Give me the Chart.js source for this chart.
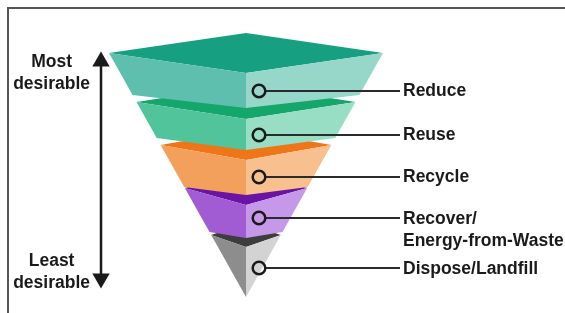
<!DOCTYPE html>
<html>
<head>
<meta charset="utf-8">
<script src="https://cdn.jsdelivr.net/npm/chart.js@4.4.1/dist/chart.umd.min.js"></script>
<style>
    html, body { margin: 0; padding: 0; background: #fff; }
    .wrap { position: relative; width: 565px; height: 313px; overflow: hidden; }
    .wrap canvas { position: absolute; left: 0; top: 0; }
    .frame {
        position: absolute; left: 7px; top: 7px; width: 620px; height: 400px;
        border-top: 2px solid #555; border-left: 2px solid #555; pointer-events: none;
    }
</style>
</head>
<body>
<div class="wrap">
    <canvas id="chart" width="565" height="313"></canvas>
    <div class="frame"></div>
</div>
<script>
// Waste hierarchy - inverted pyramid, most desirable option at the top

const levels = ["Reduce", "Reuse", "Recycle", ["Recover/", "Energy-from-Waste"], "Dispose/Landfill"];
const layerTop = [53, 102, 145, 188, 235];       // outer corners, top edge
const layerTopMid = [73, 119, 160, 205, 247];    // front (centre) edge, top
const layerBottom = [95, 138, 187, 232, 297];    // outer corners, bottom edge
const layerBottomMid = [108, 150, 195, 238, 297];
const markerY = [91, 135, 177, 218, 268];
const labelY = [91, 135, 177, 230, 269];
const endLabels = [["Most", "desirable"], ["Least", "desirable"]];
const endLabelY = [73, 272];
const arrowY = [61.5, 278.5];

const faceColors = [
    { top: "#179f82", left: "#5ebfae", right: "#96d7c9" },
    { top: "#14a66b", left: "#52c49c", right: "#98dec4" },
    { top: "#ef7519", left: "#f4a05d", right: "#f8c08e" },
    { top: "#6a14a6", left: "#a15bd3", right: "#c598e9" },
    { top: "#3d3d3d", left: "#8d8d8d", right: "#d3d3d3" }
];

// pyramid outline
const CX = 246;
const TOP_Y = 53;
const TOP_HALF = 137;
const TIP_Y = 297;
const MARK_X = 259;
const MARK_R = 6.3;
const LINE_END = 400;
const ARROW_X = 101;
const INK = "#1a1a1a";

function halfWidth(y) {
    return TOP_HALF * (TIP_Y - y) / (TIP_Y - TOP_Y);
}

// first point leftmost, last point rightmost (filler clips on x range)
function face(points, color) {
    return {
        data: points.map(p => ({ x: p[0], y: p[1] })),
        showLine: true,
        fill: "shape",
        backgroundColor: color,
        borderWidth: 0,
        pointRadius: 0
    };
}

const datasets = [];

// circles on the front edge
datasets.push({
    data: markerY.map(y => ({ x: MARK_X, y: y })),
    pointRadius: MARK_R,
    pointBorderWidth: 2.5,
    pointBorderColor: INK,
    pointBackgroundColor: "rgba(0,0,0,0)",
    clip: false
});

// leader lines
markerY.forEach(y => {
    datasets.push({
        data: [{ x: MARK_X + MARK_R, y: y }, { x: LINE_END, y: y }],
        showLine: true,
        borderColor: "#2b2b2b",
        borderWidth: 1.8,
        pointRadius: 0,
        clip: false
    });
});

// double arrow on the left
datasets.push({
    data: arrowY.map(y => ({ x: ARROW_X, y: y })),
    showLine: true,
    borderColor: INK,
    borderWidth: 2.5,
    pointStyle: "triangle",
    pointRadius: 10,
    pointRotation: [0, 180],
    pointBackgroundColor: INK,
    pointBorderWidth: 0,
    clip: false
});

// layers, top one first so it is drawn last
levels.forEach((_, i) => {
    const c = faceColors[i];
    const t = layerTop[i];
    const tm = layerTopMid[i];
    const b = layerBottom[i];
    const bm = layerBottomMid[i];
    const wt = halfWidth(t);
    const wb = halfWidth(b);
    const back = 2 * t - tm;

    datasets.push(face([[CX - wt, t], [CX - wb, b], [CX, bm], [CX, tm]], c.left));
    datasets.push(face([[CX, tm], [CX, bm], [CX + wb, b], [CX + wt, t]], c.right));
    datasets.push(face([[CX - wt, t], [CX, tm], [CX + wt, t]], c.top));
    datasets.push(face([[CX - wt, t], [CX, back], [CX + wt, t]], c.top));
});

const labelFont = {
    family: "'Liberation Sans', Arial, sans-serif",
    size: 17.5,
    weight: "bold",
    lineHeight: 1.24
};

new Chart(document.getElementById("chart"), {
    type: "scatter",
    data: { datasets: datasets },
    options: {
        responsive: false,
        animation: false,
        events: [],
        layout: { padding: 0, autoPadding: false },
        plugins: {
            legend: { display: false },
            tooltip: { enabled: false }
        },
        scales: {
            x: { type: "linear", min: 100, max: 400, display: false },
            y: {
                type: "linear",
                position: "left",
                min: 0,
                max: 313,
                reverse: true,
                grid: { display: false, drawTicks: false },
                border: { display: false },
                afterBuildTicks: axis => {
                    axis.ticks = endLabelY.map(v => ({ value: v }));
                },
                afterFit: axis => {
                    axis.width = 100;
                    axis.paddingTop = 0;
                    axis.paddingBottom = 0;
                },
                ticks: {
                    autoSkip: false,
                    crossAlign: "center",
                    padding: 10,
                    color: INK,
                    font: labelFont,
                    callback: (value, index) => endLabels[index]
                }
            },
            y2: {
                type: "linear",
                position: "right",
                min: 0,
                max: 313,
                reverse: true,
                grid: { display: false, drawTicks: false },
                border: { display: false },
                afterBuildTicks: axis => {
                    axis.ticks = labelY.map(v => ({ value: v }));
                },
                afterFit: axis => {
                    axis.width = 165;
                    axis.paddingTop = 0;
                    axis.paddingBottom = 0;
                },
                ticks: {
                    autoSkip: false,
                    crossAlign: "near",
                    padding: 3,
                    color: INK,
                    font: labelFont,
                    callback: (value, index) => levels[index]
                }
            }
        }
    }
});
</script>
</body>
</html>
